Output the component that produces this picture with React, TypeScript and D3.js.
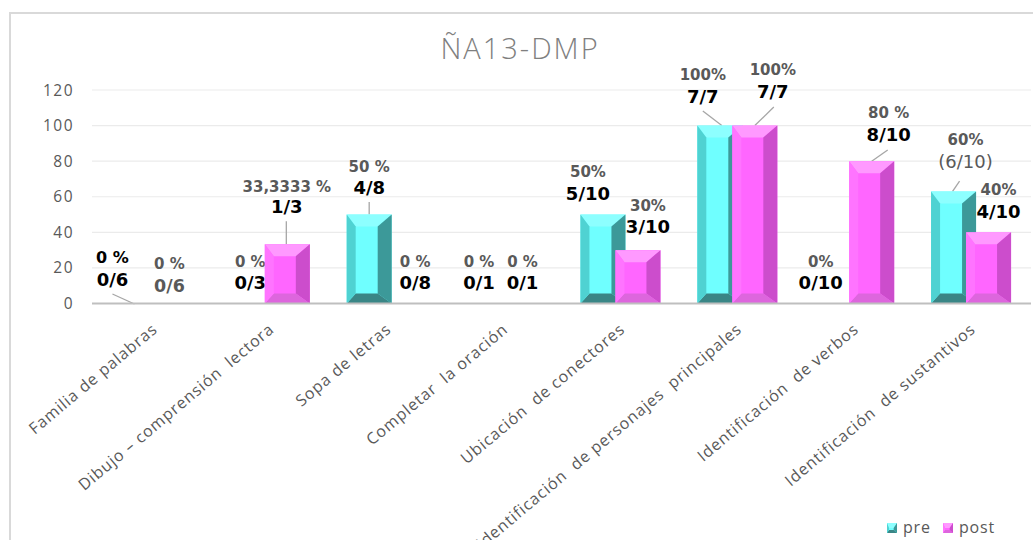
import * as d3 from "d3";

const categories = [
  "Familia de palabras",
  "Dibujo – comprensión  lectora",
  "Sopa de letras",
  "Completar  la oración",
  "Ubicación  de conectores",
  "Identificación  de personajes  principales",
  "Identificación  de verbos",
  "Identificación  de sustantivos",
];
const preValues = [0, 0, 50, 0, 50, 100, 0, 63];
const postValues = [0, 33.33, 0, 0, 30, 100, 80, 40];
const prePct = ["0 %", "0 %", "50 %", "0 %", "50%", "100%", "0%", "60%"];
const preFrac = ["0/6", "0/3", "4/8", "0/1", "5/10", "7/7", "0/10", "(6/10)"];
const postPct = ["0 %", "33,3333 %", "0 %", "0 %", "30%", "100%", "80 %", "40%"];
const postFrac = ["0/6", "1/3", "0/8", "0/1", "3/10", "7/7", "8/10", "4/10"];
const yTicks = [0, 20, 40, 60, 80, 100, 120];

// label placement relative to bar top-center: [dx, dy line1, dy line2]
const preLabelPos = [
  [-23, -40.5, -17.5], [-2, -36.5, -14.5], [0, -42.5, -20.5], [-7, -36.5, -14.5],
  [-15, -37.5, -14.5], [-17, -45.6, -22.6], [-16, -36.5, -14.5], [12, -46.4, -23.4],
];
const postLabelPos = [
  [-1, -34.5, -11.5], [-0.5, -52, -31], [11, -36.5, -14.5], [1.5, -36.5, -14.5],
  [10, -39, -17], [18, -50.6, -27.6], [17, -43.2, -20.2], [10, -37.3, -14.3],
];
// leader lines: [x1, y1, x2, y2] relative to bar top-center, null = none
const preLeaders: (number[] | null)[] = [
  [-23, -9.5, -1, 0.5], null, [0, -12.5, 0, 0], null, null, [-17, -14.6, 2, 0], null, [6, -10.4, -1, 0],
];
const postLeaders: (number[] | null)[] = [
  null, [-1, -23, -1, 0], null, null, null, [19, -18.6, 0, 0], [16, -11.2, 0, 0], null,
];

const W = 1033;
const H = 540;
const plotLeft = 94;
const plotRight = 1029;
const y0 = 303.5;
const yTop = 90;

const x = d3.scaleBand<string>().domain(categories).range([plotLeft, plotRight]);
const y = d3.scaleLinear().domain([0, 120]).range([y0, yTop]);
const sub = d3.scaleBand<string>().domain(["pre", "post"]).range([-39.5, 30.5]);
const barW = 45;

const preColors = { face: "#6FFFFF", top: "#8DFFFF", left: "#4FD2D2", right: "#3C9999", bottom: "#3A8686" };
const postColors = { face: "#FF66FF", top: "#FF99FF", left: "#FF74FF", right: "#CC4DCC", bottom: "#DD66DD" };

type Colors = typeof preColors;

function BevelBar({ x0, yt, w, h, c, b = 11 }: { x0: number; yt: number; w: number; h: number; c: Colors; b?: number }) {
  if (h <= 0) return null;
  const x1 = x0 + w;
  const y1 = yt + h;
  const bt = Math.min(b + 1, h / 2);
  const bb = Math.min(b - 1, h / 2);
  const bl = Math.min(b - 2, w / 4);
  const br = Math.min(b + 3, w / 3);
  const p = (pts: number[][]) => pts.map((q) => q.join(",")).join(" ");
  return (
    <g>
      <rect x={x0} y={yt} width={w} height={h} fill={c.face} />
      <polygon points={p([[x0, yt], [x1, yt], [x1 - br, yt + bt], [x0 + bl, yt + bt]])} fill={c.top} />
      <polygon points={p([[x1, yt], [x1, y1], [x1 - br, y1 - bb], [x1 - br, yt + bt]])} fill={c.right} />
      <polygon points={p([[x0, y1], [x1, y1], [x1 - br, y1 - bb], [x0 + bl, y1 - bb]])} fill={c.bottom} />
      <polygon points={p([[x0, yt], [x0 + bl, yt + bt], [x0 + bl, y1 - bb], [x0, y1]])} fill={c.left} />
    </g>
  );
}

const labelFont = "'DejaVu Sans', Verdana, sans-serif";
const axisFont = "'Open Sans', 'DejaVu Sans', sans-serif";

export default function App() {
  const series = [
    { key: "pre", values: preValues, pct: prePct, frac: preFrac, pos: preLabelPos, leaders: preLeaders, colors: preColors },
    { key: "post", values: postValues, pct: postPct, frac: postFrac, pos: postLabelPos, leaders: postLeaders, colors: postColors },
  ];

  const barCenter = (cat: string, key: string) => (x(cat) ?? 0) + x.bandwidth() / 2 + (sub(key) ?? 0) + barW / 2;

  return (
    <svg width={W} height={H} style={{ position: "absolute", left: 0, top: 0, background: "#fff" }}>
      <rect x={10} y={13} width={1040} height={560} fill="#fff" stroke="#D9D9D9" strokeWidth={2} />

      <text x={520} y={59} textAnchor="middle" fontFamily={axisFont} fontSize={29} fontWeight={300}
        letterSpacing={2} fill="#7F7F7F">ÑA13-DMP</text>

      {/* gridlines + y axis */}
      {yTicks.map((t) => (
        <g key={t}>
          {t > 0 && <line x1={92} x2={1031} y1={y(t)} y2={y(t)} stroke="#EBEBEB" strokeWidth={1.2} />}
          <text x={74} y={y(t) + 5.5} textAnchor="end" fontFamily={axisFont} fontSize={15.5}
            letterSpacing={1.5} fill="#595959">{t}</text>
        </g>
      ))}

      {/* data labels (drawn under bars) */}
      {series.map((s) =>
        categories.map((cat, i) => {
          const bx = barCenter(cat, s.key);
          const yt = y(s.values[i]);
          const [dx, d1, d2] = s.pos[i];
          const ld = s.leaders[i];
          const firstBlack = s.key === "pre" && i === 0;
          const secondGray = s.key === "post" && i === 0;
          const secondPlain = s.key === "pre" && i === 7;
          return (
            <g key={s.key + i} fontFamily={labelFont} textAnchor="middle">
              {ld && <line x1={bx + ld[0]} y1={yt + ld[1]} x2={bx + ld[2]} y2={yt + ld[3]} stroke="#A6A6A6" strokeWidth={1.3} />}
              <text x={bx + dx} y={yt + d1} fontSize={firstBlack ? 16 : 15} fontWeight="bold"
                fill={firstBlack ? "#000" : "#595959"} style={{ whiteSpace: "pre" }}>{s.pct[i]}</text>
              <text x={bx + dx} y={yt + d2} fontSize={secondGray ? 17.5 : 18}
                fontWeight={secondPlain ? "normal" : "bold"}
                fill={secondGray || secondPlain ? "#595959" : "#000"}>{s.frac[i]}</text>
            </g>
          );
        })
      )}

      {/* bars */}
      {categories.map((cat, i) => (
        <g key={cat}>
          {series.map((s) => {
            const bx = barCenter(cat, s.key);
            const yt = y(s.values[i]);
            return <BevelBar key={s.key} x0={bx - barW / 2} yt={yt} w={barW} h={y0 - yt} c={s.colors} />;
          })}
        </g>
      ))}

      {/* baseline */}
      <line x1={92} x2={1031} y1={y0} y2={y0} stroke="#BFBFBF" strokeWidth={2} />

      {/* x axis labels */}
      {categories.map((cat) => {
        const cx = (x(cat) ?? 0) + x.bandwidth() / 2 + 6;
        return (
          <text key={cat} transform={`translate(${cx},331) rotate(-40)`} textAnchor="end" fontFamily={axisFont}
            fontSize={16} letterSpacing={0.9} fill="#595959" style={{ whiteSpace: "pre" }}>{cat}</text>
        );
      })}

      {/* legend */}
      {series.map((s, i) => {
        const lx = 887 + i * 56;
        return (
          <g key={s.key}>
            <BevelBar x0={lx} yt={523} w={10} h={10} c={s.colors} b={4} />
            <text x={lx + 16} y={533} fontFamily={axisFont} fontSize={16} letterSpacing={0.8} fill="#595959">{s.key}</text>
          </g>
        );
      })}
    </svg>
  );
}
